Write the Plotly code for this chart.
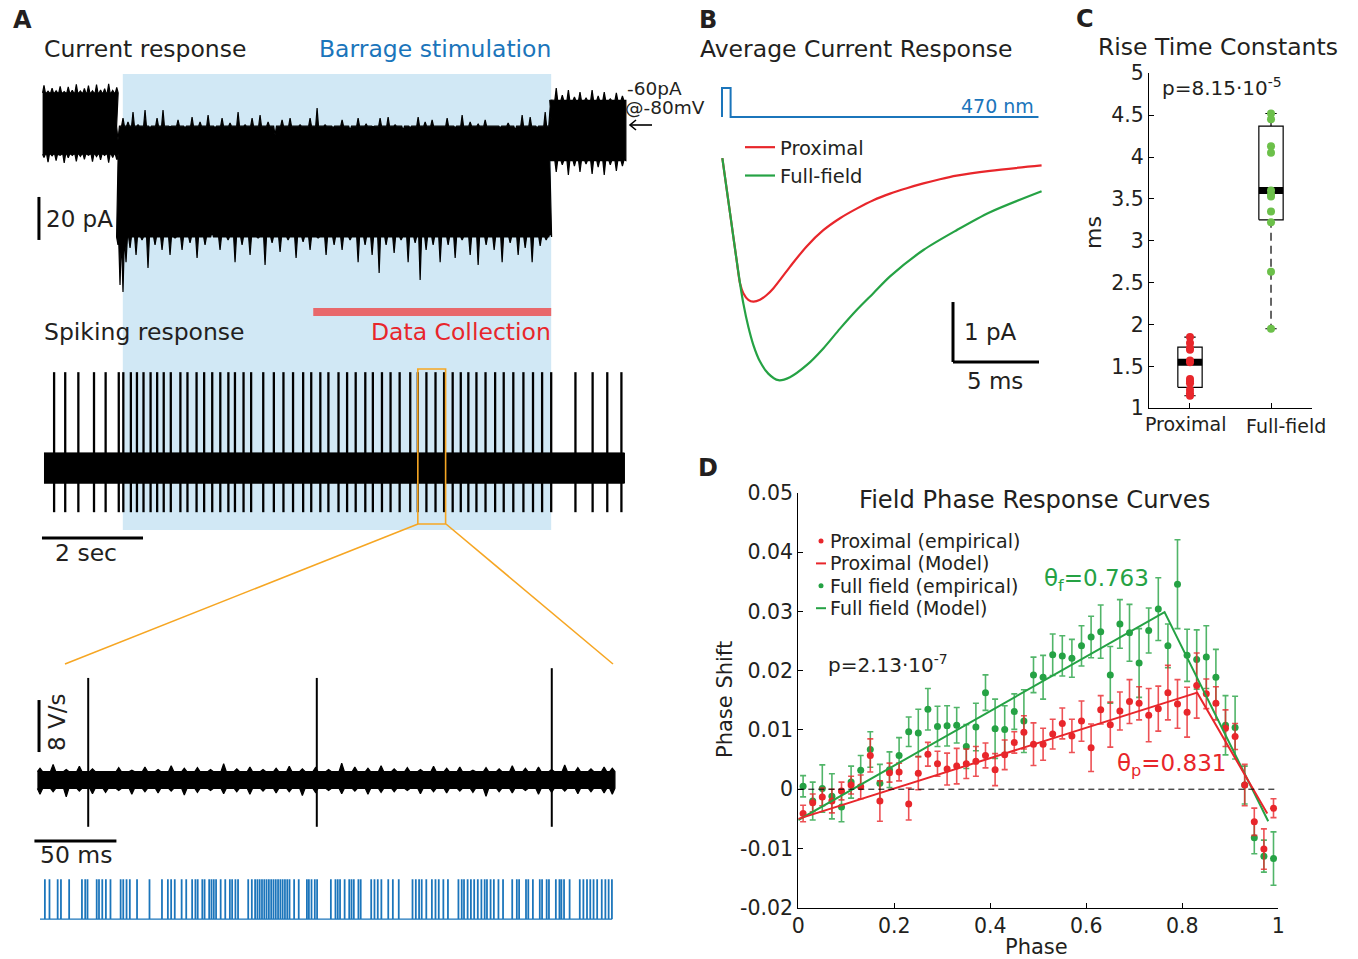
import plotly.graph_objects as go

W, H = 1358, 959
FONT = "DejaVu Sans, Arial, sans-serif"
BLACK = "#231f20"
RED = "#e8262b"
GREEN = "#25a244"
LGREEN = "#6cc04a"
BLUE = "#1b75bb"
SKY = "#d1e8f5"
ORANGE = "#f6a623"
BAR_RED = "#e8686b"


def fx(x):
    return x / W


def fy(y):
    return 1 - y / H


# ---------------- Panel A: current response (s, pA) ----------------
pre_t = [0.00, 0.08, 0.16, 0.24, 0.32, 0.40, 0.48, 0.56, 0.64, 0.72, 0.80, 0.88, 0.96,
         1.04, 1.12, 1.20, 1.28, 1.36, 1.44]
pre_hi = [17.5, 14.8, 16.2, 15.0, 17.0, 14.6, 16.8, 15.2, 18.0, 14.9, 16.1, 17.4, 15.0,
          17.9, 15.3, 16.0, 18.2, 15.1, 16.5]
pre_lo = [-16.0, -18.2, -15.3, -17.5, -15.0, -18.6, -16.2, -15.1, -17.8, -15.5, -16.9, -15.0,
          -18.0, -15.6, -17.2, -15.1, -18.4, -16.0, -17.0]

stim_top_t = [1.465, 1.564, 1.663, 1.762, 1.861, 2.000, 2.099, 2.238, 2.356, 2.495, 2.653, 2.792,
              2.931, 3.089, 3.248, 3.386, 3.525, 3.683, 3.842, 3.980, 4.119, 4.277, 4.436, 4.574,
              4.713, 4.871, 5.069, 5.267, 5.406, 5.564, 5.723, 5.901, 6.059, 6.218, 6.376, 6.515,
              6.653, 6.812, 6.950, 7.109, 7.248, 7.406, 7.545, 7.683, 7.842, 7.980, 8.139, 8.277,
              8.436, 8.594, 8.733, 8.871, 9.030, 9.188, 9.327, 9.465, 9.624, 9.762, 9.921, 10.020]
stim_top = [-7.9, 2.3, 0.5, 5.1, -0.9, 6.0, -2.3, 2.3, 6.0, -1.9, 1.4, -2.3,
            2.8, 0.5, 3.7, -2.3, 2.3, 0.0, 5.1, -0.9, 2.3, 3.7, 0.5, -5.6,
            1.4, 2.3, -0.9, 2.3, 7.0, -0.9, -2.3, 1.4, -3.3, 2.3, -0.5, -1.9,
            2.3, 2.8, -0.9, -3.3, -2.3, 2.8, 0.5, 1.4, -1.4, 2.3, -2.3, 3.7,
            0.5, -0.5, 1.4, -1.4, -2.3, 0.0, -3.3, 3.7, 2.8, -2.3, 5.1, 7.4]
stim_bot_t = [1.465, 1.505, 1.564, 1.624, 1.703, 1.822, 1.941, 2.059, 2.198, 2.337, 2.495, 2.594,
              2.733, 2.891, 3.030, 3.188, 3.327, 3.485, 3.644, 3.782, 3.921, 4.079, 4.238, 4.376,
              4.515, 4.673, 4.832, 4.990, 5.129, 5.267, 5.426, 5.584, 5.743, 5.901, 6.059, 6.218,
              6.356, 6.495, 6.634, 6.772, 6.931, 7.069, 7.208, 7.347, 7.446, 7.564, 7.703, 7.842,
              8.000, 8.139, 8.277, 8.436, 8.594, 8.752, 8.911, 9.069, 9.228, 9.386, 9.525, 9.663,
              9.822, 9.941, 10.020]
stim_bot = [-56.7, -75.3, -78.6, -64.7, -58.1, -61.4, -54.4, -67.4, -56.7, -59.1, -61.4, -53.5,
            -59.1, -55.8, -62.8, -56.7, -50.7, -59.1, -54.4, -64.7, -56.7, -61.4, -53.5, -66.0,
            -55.8, -60.0, -54.4, -62.8, -55.3, -59.1, -53.5, -61.4, -56.7, -59.1, -54.4, -64.7,
            -56.7, -61.4, -69.8, -56.7, -60.5, -54.4, -64.7, -55.8, -73.0, -59.1, -56.7, -64.7,
            -56.7, -62.8, -54.4, -61.4, -66.0, -56.7, -59.1, -64.7, -55.8, -61.4, -58.1, -64.7,
            -57.2, -54.4, -50.7]

post_t = [10.04, 10.14, 10.26, 10.38, 10.50, 10.61, 10.73, 10.85, 10.97, 11.09, 11.21, 11.33,
          11.45, 11.49]
post_hi = [10.7, 16.3, 13.0, 15.3, 12.1, 14.4, 11.6, 15.3, 12.6, 14.4, 11.2, 14.0, 12.6, 10.7]
post_lo = [-17.2, -22.8, -19.5, -24.2, -20.0, -22.8, -19.1, -23.7, -20.5, -24.2, -19.5, -22.3,
           -20.0, -17.2]

# solid body edges of the current trace (pA) between the noise peaks
pre_body = [14.0, -14.5]
stim_body = [-1.5, -53.0]
post_body = [10.5, -17.5]

stim_window = [1.56, 10.04]          # s, barrage stimulation
collect_window = [5.33, 10.04]       # s, data collection
zoom_window = [7.40, 7.95]           # s, expanded below

# ---------------- Panel A: spiking response (s, V/s) ----------------
spike_times = [0.20, 0.42, 0.68, 0.99, 1.22, 1.48, 1.57, 1.72, 1.84, 1.97, 2.11, 2.24, 2.37,
               2.51, 2.70, 2.84, 3.02, 3.17, 3.33, 3.49, 3.65, 3.78, 3.95, 4.10, 4.34, 4.55,
               4.74, 4.93, 5.13, 5.29, 5.47, 5.63, 5.83, 6.00, 6.17, 6.36, 6.51, 6.69, 6.86,
               7.04, 7.25, 7.40, 7.57, 7.75, 7.92, 8.09, 8.25, 8.40, 8.56, 8.74, 8.93, 9.10,
               9.29, 9.49, 9.68, 9.86, 10.04, 10.52, 10.86, 11.15, 11.43]
spike_peak = 15.2
spike_trough = -7.0
spk_band_t = [0.0, 11.49]
spk_band_hi = [2.4, 2.4]
spk_band_lo = [-2.4, -2.4]

# ---------------- Panel A: expanded trace (ms, V/s) ----------------
ins_t = [0, 8, 16, 24, 32, 40, 48, 56, 64, 72, 80, 88, 96, 104, 112, 120, 128, 136, 144, 152,
         160, 168, 176, 184, 192, 200, 208, 216, 224, 232, 240, 248, 256, 264, 272, 280, 288,
         296, 304, 312, 320, 328, 336, 344, 349]
ins_hi = [1.8, 2.4, 1.6, 2.1, 1.7, 1.4, 1.9, 1.5, 2.0, 1.6, 2.2, 1.8, 1.9, 1.6, 2.5, 1.7, 2.0,
          1.6, 1.8, 2.1, 1.7, 1.9, 1.6, 2.6, 2.0, 1.8, 2.2, 1.7, 1.9, 1.6, 2.1, 1.8, 2.0, 1.5,
          1.9, 1.7, 2.2, 1.8, 2.0, 1.6, 2.3, 1.9, 1.7, 2.0, 1.8]
ins_lo = [-2.2, -1.8, -2.6, -1.7, -2.1, -1.9, -1.6, -2.2, -1.8, -2.0, -1.7, -2.3, -1.9, -1.6,
          -2.1, -1.8, -2.2, -1.7, -2.0, -1.8, -2.4, -1.9, -1.6, -2.1, -1.7, -2.2, -1.9, -1.8,
          -1.6, -2.1, -1.8, -2.0, -1.7, -1.9, -2.5, -1.8, -2.0, -1.6, -2.2, -1.9, -1.7, -2.1,
          -1.8, -2.0, -2.2]
ins_body = [1.3, -1.3]
ins_spike_t = [29.4, 168.8, 312.1]
ins_spike_peak = [15.7, 15.7, 17.2]
ins_spike_trough = [-7.2, -7.2, -7.2]

pulse_times = [2.8, 5.6, 10.6, 12.6, 17.6, 25.4, 27.4, 28.8, 34.4, 35.8, 37.8, 40.0, 42.8, 49.0,
               50.6, 52.6, 54.6, 59.0, 66.6, 74.2, 77.8, 79.8, 82.0, 86.2, 89.0, 92.6, 94.6,
               96.0, 98.8, 100.2, 103.0, 104.4, 105.8, 107.2, 110.0, 112.8, 115.6, 117.0, 119.0,
               120.6, 126.8, 129.0, 131.0, 132.4, 133.8, 135.2, 136.6, 138.0, 139.4, 140.8,
               142.2, 143.6, 145.0, 146.4, 147.8, 149.2, 150.6, 152.0, 154.8, 157.6, 162.6,
               163.8, 165.4, 167.4, 168.8, 177.2, 180.0, 181.4, 182.8, 185.6, 188.4, 189.8,
               191.2, 194.0, 195.4, 201.8, 203.8, 205.8, 208.0, 212.2, 215.0, 218.6, 227.0,
               229.0, 231.0, 232.6, 235.4, 238.8, 241.0, 243.0, 245.8, 248.6, 255.0, 257.0,
               258.4, 260.6, 262.6, 264.6, 266.8, 269.0, 271.0, 272.4, 274.6, 276.6, 279.4,
               282.2, 287.8, 290.6, 292.0, 296.2, 297.6, 300.4, 304.6, 306.0, 308.8, 310.2,
               314.4, 316.6, 317.8, 319.4, 322.8, 329.0, 331.2, 333.4, 335.4, 337.4, 339.6,
               342.4, 344.6, 346.6, 348.6]
train_end = 349.0

# ---------------- Panel B: average current (ms, pA) ----------------
prox_t = [0.02, 0.47, 0.85, 1.05, 1.24, 1.53, 1.82, 2.21, 2.60, 2.98, 3.95, 4.92, 5.89, 6.86,
          7.83, 8.80, 9.77, 10.74, 11.71, 12.67, 13.64, 15.58, 18.58]
prox_i = [-0.02, -0.94, -1.72, -2.11, -2.27, -2.38, -2.41, -2.38, -2.30, -2.19, -1.83, -1.49,
          -1.22, -1.02, -0.86, -0.72, -0.61, -0.52, -0.44, -0.37, -0.31, -0.23, -0.14]
full_t = [0.02, 0.47, 0.85, 1.05, 1.24, 1.53, 1.82, 2.21, 2.69, 3.28, 3.95, 4.92, 5.89, 6.86,
          7.83, 8.80, 9.77, 11.71, 13.64, 15.58, 18.58]
full_i = [-0.02, -0.94, -1.72, -2.11, -2.44, -2.83, -3.13, -3.41, -3.61, -3.72, -3.67, -3.47,
          -3.19, -2.86, -2.55, -2.27, -1.99, -1.55, -1.22, -0.92, -0.57]
light_t = [0.0, 0.0, 0.5, 0.5, 18.4]
light_on = [0, 1, 1, 0, 0]

# ---------------- Panel C: rise time constants (ms) ----------------
groups = ["Proximal", "Full-field"]
box_q1 = [1.25, 3.25]
box_med = [1.55, 3.60]
box_q3 = [1.73, 4.37]
box_lo = [1.15, 1.95]
box_hi = [1.85, 4.52]
prox_tau = [1.85, 1.78, 1.72, 1.70, 1.57, 1.55, 1.35, 1.32, 1.30, 1.22, 1.18, 1.15]
full_tau = [4.52, 4.45, 4.13, 4.05, 3.60, 3.55, 3.53, 3.35, 3.22, 2.63, 1.95]

# ---------------- Panel D: phase response curves ----------------
phase = [0.01, 0.03, 0.05, 0.07, 0.09, 0.11, 0.13, 0.15, 0.17, 0.19, 0.21, 0.23, 0.25, 0.27,
         0.29, 0.31, 0.33, 0.35, 0.37, 0.39, 0.41, 0.43, 0.45, 0.47, 0.49, 0.51, 0.53, 0.55,
         0.57, 0.59, 0.61, 0.63, 0.65, 0.67, 0.69, 0.71, 0.73, 0.75, 0.77, 0.79, 0.81, 0.83,
         0.85, 0.87, 0.89, 0.91, 0.93, 0.95, 0.97, 0.99]
ff_shift = [0.0005, -0.0020, 0.0001, -0.0012, -0.0030, 0.0012, 0.0032, 0.0067, 0.0010, 0.0033,
            0.0057, 0.0097, 0.0095, 0.0135, 0.0106, 0.0107, 0.0108, 0.0072, 0.0105, 0.0163,
            0.0102, 0.0101, 0.0131, 0.0115, 0.0193, 0.0189, 0.0227, 0.0225, 0.0221, 0.0242,
            0.0257, 0.0266, 0.0193, 0.0279, 0.0264, 0.0213, 0.0268, 0.0304, 0.0242, 0.0346,
            0.0226, 0.0219, 0.0223, 0.0189, 0.0108, 0.0104, 0.0007, -0.0082, -0.0113, -0.0117]
ff_err = [0.0018, 0.0032, 0.0040, 0.0038, 0.0025, 0.0027, 0.0025, 0.0030, 0.0032, 0.0030,
          0.0030, 0.0025, 0.0040, 0.0035, 0.0034, 0.0034, 0.0030, 0.0037, 0.0040, 0.0030,
          0.0050, 0.0040, 0.0030, 0.0053, 0.0030, 0.0037, 0.0035, 0.0034, 0.0032, 0.0034,
          0.0035, 0.0045, 0.0048, 0.0041, 0.0048, 0.0058, 0.0038, 0.0053, 0.0037, 0.0075,
          0.0044, 0.0050, 0.0053, 0.0047, 0.0050, 0.0053, 0.0032, 0.0027, 0.0027, 0.0045]
px_shift = [-0.0041, -0.0023, -0.0013, -0.0020, -0.0003, 0.0007, 0.0004, 0.0057, -0.0020, 0.0028,
            0.0029, -0.0025, 0.0027, 0.0059, 0.0043, 0.0034, 0.0039, 0.0043, 0.0047, 0.0057,
            0.0033, 0.0058, 0.0079, 0.0096, 0.0076, 0.0076, 0.0093, 0.0111, 0.0090, 0.0115,
            0.0070, 0.0134, 0.0109, 0.0132, 0.0148, 0.0145, 0.0125, 0.0136, 0.0163, 0.0144,
            0.0130, 0.0175, 0.0161, 0.0145, 0.0103, 0.0089, 0.0007, -0.0055, -0.0101, -0.0032]
px_err = [0.0014, 0.0015, 0.0015, 0.0020, 0.0015, 0.0015, 0.0020, 0.0028, 0.0034, 0.0016,
          0.0015, 0.0027, 0.0028, 0.0020, 0.0021, 0.0027, 0.0030, 0.0025, 0.0025, 0.0021,
          0.0027, 0.0025, 0.0018, 0.0028, 0.0036, 0.0027, 0.0025, 0.0026, 0.0028, 0.0034,
          0.0040, 0.0024, 0.0038, 0.0032, 0.0037, 0.0028, 0.0045, 0.0038, 0.0046, 0.0041,
          0.0042, 0.0055, 0.0025, 0.0028, 0.0031, 0.0022, 0.0035, 0.0023, 0.0034, 0.0016]
theta_f = 0.763
theta_p = 0.831
ff_model_x = [0.0, theta_f, 0.979]
ff_model_y = [-0.0052, 0.0299, -0.0054]
px_model_x = [0.0, theta_p, 0.977]
px_model_y = [-0.0050, 0.0163, -0.0041]

# scale bar sizes
SB_A_PA, SB_A_SEC = 20, 2
SB_INS_VS, SB_INS_MS = 8, 50
SB_B_PA, SB_B_MS = 1, 5


def spiky(ts, vs, body, half):
    """Edge path: narrow noise peaks rising from the solid body of a trace."""
    xs, ys = [], []
    for t, v in zip(ts, vs):
        xs += [t - half, t, t + half]
        ys += [body, v, body]
    return xs, ys


fig = go.Figure()

# --- current response band ---
d = 0.028
ax1, ay1 = spiky(pre_t, pre_hi, pre_body[0], d)
ax2, ay2 = spiky(stim_top_t, stim_top, stim_body[0], d)
ax3, ay3 = spiky(post_t, post_hi, post_body[0], d)
bx1, by1 = spiky(pre_t, pre_lo, pre_body[1], d)
bx2, by2 = spiky(stim_bot_t, stim_bot, stim_body[1], d)
bx3, by3 = spiky(post_t, post_lo, post_body[1], d)
top_x, top_y = ax1 + ax2 + ax3, ay1 + ay2 + ay3
bot_x, bot_y = bx1 + bx2 + bx3, by1 + by2 + by3
fig.add_trace(go.Scatter(x=top_x + bot_x[::-1], y=top_y + bot_y[::-1], fill="toself",
                         fillcolor="black", mode="lines", line=dict(color="black", width=1.2),
                         xaxis="x", yaxis="y", showlegend=False, hoverinfo="skip"))

# --- spiking response ---
fig.add_trace(go.Scatter(x=spk_band_t + spk_band_t[::-1], y=spk_band_hi + spk_band_lo[::-1],
                         fill="toself", fillcolor="black", mode="lines",
                         line=dict(color="black", width=1), xaxis="x2", yaxis="y2",
                         showlegend=False, hoverinfo="skip"))
sx, sy = [], []
for t in spike_times:
    sx += [t, t, None]
    sy += [spike_trough, spike_peak, None]
fig.add_trace(go.Scatter(x=sx, y=sy, mode="lines", line=dict(color="black", width=2.3),
                         xaxis="x2", yaxis="y2", showlegend=False, hoverinfo="skip"))

# --- expanded trace ---
ix1, iy1 = spiky(ins_t, ins_hi, ins_body[0], 1.6)
ix2, iy2 = spiky(ins_t, ins_lo, ins_body[1], 1.6)
fig.add_trace(go.Scatter(x=ix1 + ix2[::-1], y=iy1 + iy2[::-1], fill="toself",
                         fillcolor="black", mode="lines", line=dict(color="black", width=1.2),
                         xaxis="x3", yaxis="y3", showlegend=False, hoverinfo="skip"))
ix, iy = [], []
for t, hi, lo in zip(ins_spike_t, ins_spike_peak, ins_spike_trough):
    ix += [t, t, None]
    iy += [lo, hi, None]
fig.add_trace(go.Scatter(x=ix, y=iy, mode="lines", line=dict(color="black", width=2),
                         xaxis="x3", yaxis="y3", showlegend=False, hoverinfo="skip"))

# --- stimulation pulse train ---
pw = 0.35
tx, ty = [0.0], [0]
for p in pulse_times:
    tx += [p, p, p + pw, p + pw]
    ty += [0, 1, 1, 0]
tx.append(train_end)
ty.append(0)
fig.add_trace(go.Scatter(x=tx, y=ty, mode="lines", line=dict(color=BLUE, width=1.2),
                         xaxis="x4", yaxis="y4", showlegend=False, hoverinfo="skip"))

# --- Panel B ---
light_base, light_amp = 0.667, 0.483
fig.add_trace(go.Scatter(x=light_t, y=[light_base + light_amp * v for v in light_on],
                         mode="lines", line=dict(color=BLUE, width=2), xaxis="x5", yaxis="y5",
                         showlegend=False, hoverinfo="skip"))
fig.add_trace(go.Scatter(x=prox_t, y=prox_i, mode="lines", name="Proximal",
                         line=dict(color=RED, width=2.2, shape="spline", smoothing=0.8),
                         xaxis="x5", yaxis="y5", legend="legend"))
fig.add_trace(go.Scatter(x=full_t, y=full_i, mode="lines", name="Full-field",
                         line=dict(color=GREEN, width=2.2, shape="spline", smoothing=0.8),
                         xaxis="x5", yaxis="y5", legend="legend"))

# --- Panel C boxes ---
hw, cw = 0.15, 0.07
for i, g in enumerate(groups):
    xc = i + 1
    fig.add_trace(go.Scatter(x=[xc - hw, xc + hw, xc + hw, xc - hw, xc - hw],
                             y=[box_q1[i], box_q1[i], box_q3[i], box_q3[i], box_q1[i]],
                             mode="lines", line=dict(color="black", width=1.2),
                             xaxis="x6", yaxis="y6", showlegend=False, hoverinfo="skip"))
    fig.add_trace(go.Scatter(x=[xc, xc, None, xc, xc], y=[box_q3[i], box_hi[i], None,
                                                         box_q1[i], box_lo[i]],
                             mode="lines", line=dict(color="black", width=1.2, dash="8px,5px"),
                             xaxis="x6", yaxis="y6", showlegend=False, hoverinfo="skip"))
    fig.add_trace(go.Scatter(x=[xc - cw, xc + cw, None, xc - cw, xc + cw],
                             y=[box_hi[i], box_hi[i], None, box_lo[i], box_lo[i]],
                             mode="lines", line=dict(color="black", width=1.2),
                             xaxis="x6", yaxis="y6", showlegend=False, hoverinfo="skip"))
    fig.add_trace(go.Scatter(x=[xc - hw, xc + hw], y=[box_med[i], box_med[i]], mode="lines",
                             line=dict(color="black", width=7), xaxis="x6", yaxis="y6",
                             showlegend=False, hoverinfo="skip"))
fig.add_trace(go.Scatter(x=[1] * len(prox_tau), y=prox_tau, mode="markers",
                         marker=dict(color=RED, size=8), xaxis="x6", yaxis="y6",
                         showlegend=False))
fig.add_trace(go.Scatter(x=[2] * len(full_tau), y=full_tau, mode="markers",
                         marker=dict(color=LGREEN, size=8), xaxis="x6", yaxis="y6",
                         showlegend=False))

# --- Panel D ---
fig.add_trace(go.Scatter(x=phase, y=ff_shift, mode="markers",
                         marker=dict(color=GREEN, size=7),
                         error_y=dict(type="data", array=ff_err, color="rgba(37,162,68,0.8)",
                                      thickness=1.6, width=3),
                         xaxis="x7", yaxis="y7", showlegend=False))
fig.add_trace(go.Scatter(x=phase, y=px_shift, mode="markers",
                         marker=dict(color=RED, size=7),
                         error_y=dict(type="data", array=px_err, color="rgba(232,38,43,0.8)",
                                      thickness=1.6, width=3),
                         xaxis="x7", yaxis="y7", showlegend=False))
fig.add_trace(go.Scatter(x=ff_model_x, y=ff_model_y, mode="lines",
                         line=dict(color=GREEN, width=2), xaxis="x7", yaxis="y7",
                         showlegend=False))
fig.add_trace(go.Scatter(x=px_model_x, y=px_model_y, mode="lines",
                         line=dict(color=RED, width=2), xaxis="x7", yaxis="y7",
                         showlegend=False))

# ---------------- shapes ----------------
shapes = []
# stimulation shading spans both traces
shapes.append(dict(type="rect", xref="x", yref="paper", x0=stim_window[0], x1=stim_window[1],
                   y0=fy(530), y1=fy(74), fillcolor=SKY, line=dict(width=0), layer="below"))
shapes.append(dict(type="rect", xref="x2", yref="paper", x0=collect_window[0],
                   x1=collect_window[1], y0=fy(316), y1=fy(308), fillcolor=BAR_RED,
                   line=dict(width=0)))
shapes.append(dict(type="rect", xref="x2", yref="paper", x0=zoom_window[0], x1=zoom_window[1],
                   y0=fy(524), y1=fy(369), line=dict(color=ORANGE, width=1.6)))
shapes.append(dict(type="line", xref="paper", yref="paper", x0=fx(418), y0=fy(524),
                   x1=fx(65), y1=fy(664), line=dict(color=ORANGE, width=1.6)))
shapes.append(dict(type="line", xref="paper", yref="paper", x0=fx(446), y0=fy(524),
                   x1=fx(613), y1=fy(664), line=dict(color=ORANGE, width=1.6)))
# holding-current arrow
shapes.append(dict(type="line", xref="paper", yref="paper", x0=fx(630), y0=fy(125),
                   x1=fx(652), y1=fy(125), line=dict(color="black", width=1.6)))
shapes.append(dict(type="path", xref="paper", yref="paper",
                   path=(f"M {fx(636)},{fy(120)} L {fx(630)},{fy(125)} "
                         f"L {fx(636)},{fy(130)}"),
                   line=dict(color="black", width=1.6)))
# legend keys in D
for k, col in [(0, RED), (1, RED), (2, GREEN), (3, GREEN)]:
    yy = 541 + k * 22.4
    if k in (1, 3):
        shapes.append(dict(type="line", xref="paper", yref="paper", x0=fx(816), x1=fx(826),
                           y0=fy(yy), y1=fy(yy), line=dict(color=col, width=2)))
    else:
        shapes.append(dict(type="circle", xref="paper", yref="paper", x0=fx(818.5),
                           x1=fx(823.5), y0=fy(yy + 2.5), y1=fy(yy - 2.5), fillcolor=col,
                           line=dict(width=0)))
# scale bars
shapes.append(dict(type="line", xref="x", yref="y", x0=-0.1, x1=-0.1, y0=-34.4,
                   y1=-34.4 - SB_A_PA, line=dict(color="black", width=3)))
shapes.append(dict(type="line", xref="x2", yref="y2", x0=-0.04, x1=-0.04 + SB_A_SEC,
                   y0=-11.1, y1=-11.1, line=dict(color="black", width=3)))
shapes.append(dict(type="line", xref="x3", yref="y3", x0=-0.6, x1=-0.6, y0=4.3,
                   y1=4.3 + SB_INS_VS, line=dict(color="black", width=3)))
shapes.append(dict(type="line", xref="x3", yref="y3", x0=-3.4, x1=-3.4 + SB_INS_MS,
                   y0=-9.4, y1=-9.4, line=dict(color="black", width=3)))
shapes.append(dict(type="line", xref="x5", yref="y5", x0=13.43, x1=13.43, y0=-2.417,
                   y1=-2.417 - SB_B_PA, line=dict(color="black", width=3)))
shapes.append(dict(type="line", xref="x5", yref="y5", x0=13.43, x1=13.43 + SB_B_MS,
                   y0=-3.417, y1=-3.417, line=dict(color="black", width=3)))
# zero line in D
shapes.append(dict(type="line", xref="x7", yref="y7", x0=0, x1=1, y0=0, y1=0,
                   line=dict(color="black", width=1, dash="6px,4px")))

# ---------------- annotations ----------------
ann = []


def txt(x, y, s, size=20, color=BLACK, xanchor="left", yanchor="middle", angle=0, bold=False):
    if bold:
        s = "<b>" + s + "</b>"
    ann.append(dict(x=fx(x), y=fy(y), xref="paper", yref="paper", text=s, showarrow=False,
                    font=dict(family=FONT, size=size, color=color), xanchor=xanchor,
                    yanchor=yanchor, textangle=angle))


txt(22, 20, "A", 24, xanchor="center", bold=True)
txt(708, 20, "B", 24, xanchor="center", bold=True)
txt(1085, 19, "C", 24, xanchor="center", bold=True)
txt(708, 468, "D", 24, xanchor="center", bold=True)

txt(42, 49, "Current response", 23.5)
txt(553, 49, "Barrage stimulation", 23.5, BLUE, xanchor="right")
txt(42, 332, "Spiking response", 23.5)
txt(553, 332, "Data Collection", 23.5, RED, xanchor="right")
txt(625, 88, "-60pA", 18.5)
txt(623, 108, "@-80mV", 18.5)
txt(44, 219, "20 pA", 23)
txt(53, 553, "2 sec", 23.5)
txt(57, 722, "8 V/s", 23, xanchor="center", angle=-90)
txt(38, 855, "50 ms", 23.5)

txt(698, 49, "Average Current Response", 23.5)
txt(1036, 106, "470 nm", 19, BLUE, xanchor="right")
txt(962, 332, "1 pA", 23)
txt(995, 381, "5 ms", 23, xanchor="center")

txt(1218, 47, "Rise Time Constants", 23.5, xanchor="center")
txt(1160, 87, "p=8.15·10<sup>-5</sup>", 20)
txt(1093, 233, "ms", 22, xanchor="center", angle=-90)
txt(1186, 424, groups[0], 19, xanchor="center")
txt(1286, 426, groups[1], 19, xanchor="center")

txt(1034, 500, "Field Phase Response Curves", 24.2, xanchor="center")
leg_labels = ["Proximal (empirical)", "Proximal (Model)", "Full field (empirical)",
              "Full field (Model)"]
for k, lab in enumerate(leg_labels):
    txt(828, 541 + k * 22.4, lab, 19)
txt(826, 664, "p=2.13·10<sup>-7</sup>", 20)
txt(1042, 580, "θ<sub>f</sub>=0.763", 23, GREEN)
txt(1115, 765, "θ<sub>p</sub>=0.831", 23, RED)
txt(1036, 947, "Phase", 21, xanchor="center")
txt(725, 700, "Phase Shift", 21, xanchor="center", angle=-90)

hidden = dict(visible=False, showgrid=False, zeroline=False)
axis_line = dict(showline=True, linecolor="black", linewidth=1.2, ticks="inside", ticklen=5,
                 tickcolor="black", showgrid=False, zeroline=False,
                 tickfont=dict(family=FONT, size=20.5, color=BLACK))

fig.update_layout(
    width=W, height=H, margin=dict(l=0, r=0, t=0, b=0),
    paper_bgcolor="white", plot_bgcolor="rgba(0,0,0,0)", template="none",
    font=dict(family=FONT, color=BLACK),
    xaxis=dict(domain=[fx(30), fx(630)], range=[-0.277, 11.60], anchor="y", **hidden),
    yaxis=dict(domain=[fy(300), fy(70)], range=[-82.33, 24.65], anchor="x", **hidden),
    xaxis2=dict(domain=[fx(30), fx(630)], range=[-0.277, 11.60], anchor="y2", **hidden),
    yaxis2=dict(domain=[fy(545), fy(340)], range=[-12.2, 20.3], anchor="x2", **hidden),
    xaxis3=dict(domain=[fx(30), fx(620)], range=[-6.1, 353.7], anchor="y3", **hidden),
    yaxis3=dict(domain=[fy(850), fy(660)], range=[-10.77, 18.46], anchor="x3", **hidden),
    xaxis4=dict(domain=[fx(30), fx(620)], range=[-6.1, 353.7], anchor="y4", **hidden),
    yaxis4=dict(domain=[fy(921), fy(878)], range=[-0.05, 1.05], anchor="x4", **hidden),
    xaxis5=dict(domain=[fx(700), fx(1045)], range=[-1.279, 18.779], anchor="y5", **hidden),
    yaxis5=dict(domain=[fy(400), fy(75)], range=[-4.05, 1.367], anchor="x5", **hidden),
    xaxis6=dict(domain=[fx(1149), fx(1312)], range=[0.494, 2.506], anchor="y6",
                tickvals=[1, 2], showticklabels=False, **axis_line),
    yaxis6=dict(domain=[fy(408.3), fy(73.3)], range=[1, 5], anchor="x6",
                tickvals=[1, 1.5, 2, 2.5, 3, 3.5, 4, 4.5, 5],
                ticktext=["1", "1.5", "2", "2.5", "3", "3.5", "4", "4.5", "5"], **axis_line),
    xaxis7=dict(domain=[fx(798.3), fx(1278.3)], range=[0, 1], anchor="y7",
                tickvals=[0, 0.2, 0.4, 0.6, 0.8, 1],
                ticktext=["0", "0.2", "0.4", "0.6", "0.8", "1"], **axis_line),
    yaxis7=dict(domain=[fy(907.7), fy(493)], range=[-0.02, 0.05], anchor="x7",
                tickvals=[-0.02, -0.01, 0, 0.01, 0.02, 0.03, 0.04, 0.05],
                ticktext=["-0.02", "-0.01", "0", "0.01", "0.02", "0.03", "0.04", "0.05"],
                **axis_line),
    legend=dict(x=fx(740), y=fy(128), xanchor="left", yanchor="top",
                font=dict(family=FONT, size=19.5, color=BLACK), bgcolor="rgba(0,0,0,0)",
                itemwidth=30, tracegroupgap=0),
    shapes=shapes, annotations=ann,
)

fig.write_html("out.html")
